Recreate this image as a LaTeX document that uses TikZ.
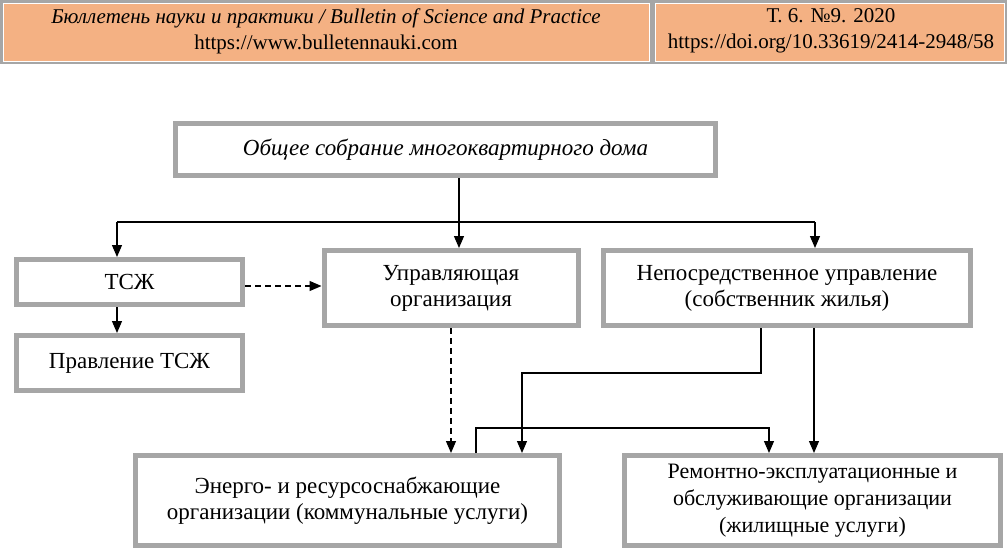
\documentclass[tikz,border=0pt]{standalone}
\usepackage{fontspec}
\setmainfont{Liberation Serif}
\usetikzlibrary{arrows.meta}
\definecolor{boxgray}{RGB}{166,166,166}
\definecolor{headorange}{RGB}{244,177,131}

\begin{document}
\begin{tikzpicture}[x=1pt, y=-1pt,
    box/.style={draw=boxgray, line width=5pt, fill=white, align=center,
        inner sep=0pt, font=\fontsize{23}{26}\selectfont},
    arr/.style={line width=1.2pt, -{Triangle[length=12pt, width=10pt]}},
    lin/.style={line width=1.2pt},
    dsh/.style={dash pattern=on 6pt off 4pt}]
    \useasboundingbox (0,0) rectangle (1007,550);

    % header
    \fill[boxgray] (0,0) rectangle (1007,64);
    \draw[white, fill=headorange] (3,3) rectangle (649,61);
    \draw[white, fill=headorange] (655,3) rectangle (1004,61);
    \node (hleft) [align=center, font=\fontsize{21}{26}\selectfont] at (326,31)
        {\textit{Бюллетень науки и практики / Bulletin of Science and Practice}\\https://www.bulletennauki.com};
    \node (hright) [align=center, font=\fontsize{21}{26}\selectfont] at (831,31)
        {Т. 6. №9. 2020\\https://doi.org/10.33619/2414-2948/58};

    % boxes
    \node (sobranie) [box, minimum width=540, minimum height=52] at (445.5,149.5)
        {\textit{Общее собрание многоквартирного дома}};
    \node (tsj) [box, minimum width=226, minimum height=45] at (129.5,282) {ТСЖ};
    \node (pravl) [box, minimum width=226, minimum height=55] at (129.5,363) {Правление ТСЖ};
    \node (uprav) [box, minimum width=254, minimum height=75] at (451,288)
        {Управляющая\\организация};
    \node (neposr) [box, minimum width=367, minimum height=75] at (787,288)
        {Непосредственное управление\\(собственник жилья)};
    \node (energo) [box, minimum width=424, minimum height=90] at (347.5,500.5)
        {Энерго- и ресурсоснабжающие\\организации (коммунальные услуги)};
    \node (remont) [box, minimum width=376, minimum height=90,
        font=\fontsize{22}{27}\selectfont] at (812.5,500.5)
        {Ремонтно-эксплуатационные и\\обслуживающие организации\\(жилищные услуги)};

    % connectors
    \coordinate (bus) at (459,222);
    \coordinate (busL) at (117,222);
    \coordinate (busR) at (815,222);
    \draw[lin] (bus |- sobranie.south) -- (bus);
    \draw[lin] (busL) -- (busR);
    \draw[arr] (busL) -- (busL |- tsj.north);
    \draw[arr] (bus) -- (bus |- uprav.north);
    \draw[arr] (busR) -- (busR |- neposr.north);
    \draw[arr] ([xshift=-12.5pt]tsj.south) -- ([xshift=-12.5pt]pravl.north);
    \draw[arr, dsh] ([yshift=-4pt]tsj.east) -- ([yshift=-4pt]tsj.east -| uprav.west);
    \draw[arr, dsh] (uprav.south) -- (uprav.south |- energo.north);

    \coordinate (jogN) at (522,373);
    \coordinate (jogE) at (769,428);
    \draw[arr] ([xshift=-26pt]neposr.south) |- (jogN) -- (jogN |- energo.north);
    \draw[arr] ([xshift=27pt]neposr.south) -- ([xshift=27pt]neposr.south |- remont.north);
    \draw[arr] ([xshift=128.5pt]energo.north) |- (jogE) -- (jogE |- remont.north);
\end{tikzpicture}
\end{document}
